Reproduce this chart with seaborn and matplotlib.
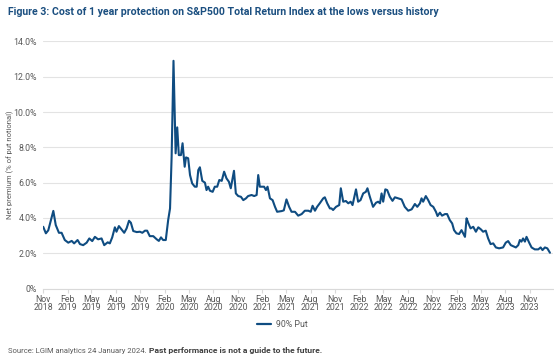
import pandas as pd
import seaborn as sns
import matplotlib.pyplot as plt
import matplotlib.dates as mdates
from matplotlib.ticker import FuncFormatter

# Data (90% put premium, % of notional)
dates = [
    "2018-11-01", "2018-11-11", "2018-11-20", "2018-12-09", "2018-12-18", "2018-12-30",
    "2019-01-09", "2019-01-21", "2019-02-03", "2019-02-16", "2019-02-25", "2019-03-10",
    "2019-03-19", "2019-03-31", "2019-04-13", "2019-04-23", "2019-05-04", "2019-05-14",
    "2019-05-26", "2019-06-08", "2019-06-18", "2019-07-01", "2019-07-09", "2019-07-18",
    "2019-07-28", "2019-08-03", "2019-08-12", "2019-08-24", "2019-09-01", "2019-09-10",
    "2019-09-19", "2019-09-26", "2019-10-05", "2019-10-18", "2019-10-30", "2019-11-08",
    "2019-11-18", "2019-11-26", "2019-12-06", "2019-12-19", "2020-01-01", "2020-01-09",
    "2020-01-17", "2020-01-25", "2020-02-04", "2020-02-13", "2020-02-20", "2020-02-26",
    "2020-03-04", "2020-03-12", "2020-03-18", "2020-03-24", "2020-04-01", "2020-04-07",
    "2020-04-15", "2020-04-20", "2020-04-28", "2020-05-05", "2020-05-13", "2020-05-23",
    "2020-05-30", "2020-06-05", "2020-06-11", "2020-06-20", "2020-06-30", "2020-07-06",
    "2020-07-12", "2020-07-19", "2020-07-29", "2020-08-06", "2020-08-15", "2020-08-23",
    "2020-09-01", "2020-09-10", "2020-09-19", "2020-09-28", "2020-10-05", "2020-10-17",
    "2020-10-24", "2020-11-02", "2020-11-12", "2020-11-21", "2020-12-01", "2020-12-09",
    "2020-12-22", "2021-01-01", "2021-01-10", "2021-01-16", "2021-01-22", "2021-01-29",
    "2021-02-07", "2021-02-14", "2021-02-20", "2021-03-01", "2021-03-11", "2021-03-20",
    "2021-03-28", "2021-04-14", "2021-04-22", "2021-05-02", "2021-05-12", "2021-05-21",
    "2021-06-03", "2021-06-15", "2021-06-28", "2021-07-10", "2021-07-23", "2021-08-01",
    "2021-08-08", "2021-08-17", "2021-08-25", "2021-09-04", "2021-09-17", "2021-09-23",
    "2021-10-02", "2021-10-12", "2021-10-18", "2021-10-24", "2021-11-04", "2021-11-16",
    "2021-11-22", "2021-12-01", "2021-12-11", "2021-12-20", "2021-12-29", "2022-01-05",
    "2022-01-18", "2022-01-26", "2022-02-04", "2022-02-14", "2022-02-24", "2022-03-02",
    "2022-03-11", "2022-03-23", "2022-04-03", "2022-04-11", "2022-04-18", "2022-04-24",
    "2022-04-30", "2022-05-08", "2022-05-15", "2022-05-25", "2022-06-04", "2022-06-13",
    "2022-06-25", "2022-07-08", "2022-07-20", "2022-08-02", "2022-08-15", "2022-08-27",
    "2022-09-05", "2022-09-15", "2022-09-21", "2022-09-27", "2022-10-07", "2022-10-16",
    "2022-10-25", "2022-11-04", "2022-11-14", "2022-11-20", "2022-11-29", "2022-12-07",
    "2022-12-18", "2022-12-26", "2023-01-05", "2023-01-14", "2023-01-21", "2023-01-30",
    "2023-02-09", "2023-02-18", "2023-02-24", "2023-03-03", "2023-03-09", "2023-03-15",
    "2023-03-24", "2023-04-03", "2023-04-13", "2023-04-22", "2023-05-02", "2023-05-10",
    "2023-05-20", "2023-05-29", "2023-06-07", "2023-06-17", "2023-06-27", "2023-07-09",
    "2023-07-24", "2023-08-03", "2023-08-12", "2023-08-22", "2023-08-31", "2023-09-10",
    "2023-09-19", "2023-09-25", "2023-10-01", "2023-10-07", "2023-10-14", "2023-10-20",
    "2023-10-30", "2023-11-08", "2023-11-20", "2023-12-03", "2023-12-12", "2023-12-19",
    "2023-12-28", "2024-01-06", "2024-01-16",
]
put_90 = [
    3.50, 3.13, 3.30, 4.40, 3.60, 3.16,
    3.16, 2.75, 2.60, 2.70, 2.56, 2.75,
    2.52, 2.46, 2.60, 2.84, 2.69, 2.93,
    2.79, 2.84, 2.46, 2.62, 2.56, 2.90,
    3.47, 3.22, 3.54, 3.31, 3.16, 3.41,
    3.84, 3.73, 3.26, 3.20, 3.22, 3.16,
    3.28, 3.28, 2.97, 2.97, 2.79, 2.70,
    2.90, 2.75, 2.75, 3.88, 4.54, 7.47,
    12.90, 7.66, 9.13, 7.56, 7.56, 8.23,
    6.90, 7.43, 7.38, 6.43, 5.96, 5.77,
    5.77, 6.71, 6.87, 6.10, 6.00, 5.58,
    5.77, 5.54, 5.48, 5.77, 5.77, 6.15,
    6.10, 6.62, 6.24, 6.05, 5.68, 6.67,
    5.39, 5.24, 5.20, 5.01, 5.11, 5.24,
    5.30, 5.24, 5.30, 6.43, 5.77, 5.77,
    5.77, 5.58, 5.77, 5.11, 5.01, 4.63,
    4.35, 4.39, 4.43, 5.05, 4.63, 4.35,
    4.35, 4.13, 4.22, 4.41, 4.41, 4.35,
    4.69, 4.41, 4.63, 4.83, 5.11, 5.17,
    4.83, 4.54, 4.54, 4.45, 4.63, 4.73,
    5.68, 4.92, 4.96, 4.83, 4.92, 4.73,
    5.62, 4.92, 5.01, 5.39, 5.48, 5.68,
    5.20, 4.63, 4.86, 4.92, 4.83, 5.39,
    4.92, 5.62, 5.58, 5.20, 4.97, 5.17,
    5.11, 5.05, 4.63, 4.41, 4.49, 4.79,
    4.63, 4.83, 5.11, 4.92, 5.24, 5.01,
    4.73, 4.63, 4.35, 4.11, 4.30, 4.13,
    4.22, 4.22, 3.88, 3.69, 3.31, 3.13,
    3.09, 3.31, 3.13, 2.93, 3.98, 3.73,
    3.41, 3.50, 3.22, 3.47, 3.35, 3.22,
    3.28, 2.84, 2.52, 2.56, 2.33, 2.28,
    2.33, 2.60, 2.69, 2.46, 2.40, 2.33,
    2.46, 2.75, 2.66, 2.84, 2.66, 2.93,
    2.60, 2.33, 2.22, 2.22, 2.33, 2.18,
    2.33, 2.28, 2.03,
]

title = "Figure 3: Cost of 1 year protection on S&P500 Total Return Index at the lows versus history"
y_label = "Net premium (% of put notional)"
series_name = "90% Put"
source = "Source: LGIM analytics 24 January 2024."
disclaimer = "Past performance is not a guide to the future."

df = pd.DataFrame({"date": pd.to_datetime(dates), "value": put_90, "series": series_name})

sns.set_style("white")
plt.rcParams["font.family"] = ["Roboto", "DejaVu Sans"]

line_color = "#0f4c81"
text_grey = "#595959"

fig = plt.figure(figsize=(5.54, 3.63), dpi=100)
ax = fig.add_axes([0.078, 0.205, 0.92, 0.681])

sns.lineplot(data=df, x="date", y="value", hue="series", palette=[line_color],
             linewidth=1.5, ax=ax, legend=False)

ax.set_ylim(0, 14)
ax.set_yticks(range(0, 15, 2))
ax.yaxis.set_major_formatter(FuncFormatter(lambda v, p: "0%" if v == 0 else f"{v:.1f}%"))
ax.set_xlim(pd.Timestamp("2018-11-01"), pd.Timestamp("2024-01-27"))
ax.xaxis.set_major_locator(mdates.MonthLocator(bymonth=[2, 5, 8, 11]))
ax.xaxis.set_major_formatter(mdates.DateFormatter("%b\n%Y"))

ax.grid(axis="y", color="#e3e3e3", linewidth=0.8)
ax.set_axisbelow(True)
for side in ["top", "right", "left"]:
    ax.spines[side].set_visible(False)
ax.spines["bottom"].set_color("#d9d9d9")
ax.spines["bottom"].set_linewidth(0.8)
ax.tick_params(axis="x", bottom=True, length=3, color="#d9d9d9", labelsize=6.3,
               labelcolor=text_grey, pad=1.5)
ax.tick_params(axis="y", left=False, labelsize=6.3, labelcolor=text_grey, pad=1)
for lab in ax.get_xticklabels():
    lab.set_linespacing(0.95)

ax.set_xlabel("")
ax.set_ylabel(y_label, fontsize=5.5, color=text_grey, va="center")
ax.yaxis.set_label_coords(-0.064, 0.5)

fig.text(0.014, 0.968, title, fontsize=7.6, fontweight="bold", color="#1b4f80",
         va="center", ha="left")

# legend under the plot
fig.legend(handles=[plt.Line2D([], [], color=line_color, linewidth=1.6)], labels=[series_name],
           loc="center", bbox_to_anchor=(0.51, 0.105), frameon=False, fontsize=6.3,
           handlelength=1.6, handletextpad=0.6, labelcolor=text_grey)

src = fig.text(0.014, 0.034, source, fontsize=5.5, color=text_grey, va="center", ha="left")
fig.canvas.draw()
bb = src.get_window_extent().transformed(fig.transFigure.inverted())
fig.text(bb.x1 + 0.004, 0.034, disclaimer, fontsize=6.1, fontweight="bold", color="#3f3f3f",
         va="center", ha="left")

fig.savefig("out.png", dpi=100)
